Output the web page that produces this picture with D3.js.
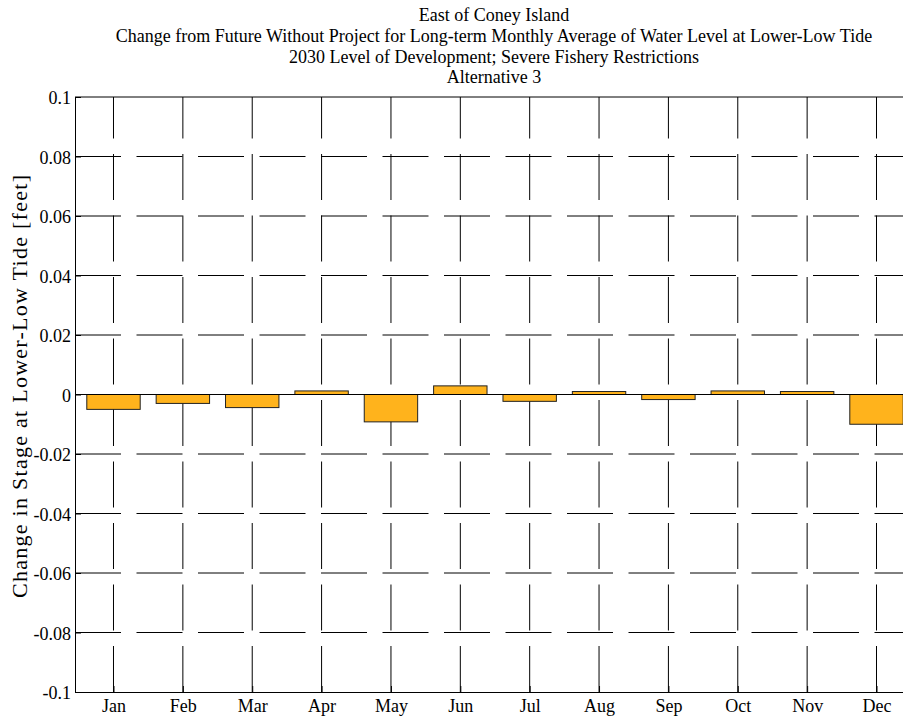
<!DOCTYPE html>
<html>
<head>
<meta charset="utf-8">
<script src="https://cdn.jsdelivr.net/npm/d3@7"></script>
<style>
  body { margin: 0; background: #fff; }
  svg { display: block; }
  text { font-family: "Liberation Serif", "Times New Roman", serif; fill: #000; }
</style>
</head>
<body>
<svg id="chart" width="903" height="719"></svg>
<script>
const months = ["Jan","Feb","Mar","Apr","May","Jun","Jul","Aug","Sep","Oct","Nov","Dec"];
const values = [-0.005, -0.003, -0.0044, 0.0012, -0.0092, 0.0029, -0.0023, 0.001, -0.0017, 0.0012, 0.001, -0.01];
const yTicks = [-0.1, -0.08, -0.06, -0.04, -0.02, 0, 0.02, 0.04, 0.06, 0.08, 0.1];
const titleLines = [
  "East of Coney Island",
  "Change from Future Without Project for Long-term Monthly Average of Water Level at Lower-Low Tide",
  "2030 Level of Development; Severe Fishery Restrictions",
  "Alternative 3"
];
const yLabel = "Change in Stage at Lower-Low Tide [feet]";

(function () {
const svg = d3.select("#chart");
const mLeft = 75, mTop = 97, mBottom = 692, mRight = 915;
const FONT = "'Liberation Serif', 'Times New Roman', serif";

const x = d3.scaleLinear().domain([0.445, 12.555]).range([mLeft, mRight]);
const y = d3.scaleLinear().domain([-0.1, 0.1]).range([mBottom, mTop]);
const barW = 0.77;

const fmt = d => d === 0 ? "0" : String(+d.toFixed(2));

// grid
const grid = svg.append("g");
yTicks.filter(d => d !== 0 && d !== 0.1 && d !== -0.1).forEach(d => {
  grid.append("line")
    .attr("x1", mLeft).attr("x2", mRight)
    .attr("y1", y(d)).attr("y2", y(d))
    .attr("stroke", "#000").attr("stroke-width", 1)
    .attr("stroke-dasharray", "46,15.5");
});
months.forEach((m, i) => {
  grid.append("line")
    .attr("x1", x(i + 1)).attr("x2", x(i + 1))
    .attr("y1", mBottom).attr("y2", mTop)
    .attr("stroke", "#000").attr("stroke-width", 1)
    .attr("stroke-dasharray", "46,15.5");
});

// bars
svg.append("g").selectAll("rect").data(values).join("rect")
  .attr("x", (d, i) => x(i + 1 - barW / 2))
  .attr("width", x(barW) - x(0))
  .attr("y", d => y(Math.max(0, d)))
  .attr("height", d => Math.abs(y(d) - y(0)))
  .attr("fill", "#FFB31C")
  .attr("stroke", "#222")
  .attr("stroke-width", 1);

// baseline
svg.append("line")
  .attr("x1", mLeft).attr("x2", mRight)
  .attr("y1", y(0)).attr("y2", y(0))
  .attr("stroke", "#000").attr("stroke-width", 1);

// axes (ticks inside)
const yAxis = d3.axisLeft(y).tickValues(yTicks).tickFormat(fmt).tickSizeInner(-6).tickSizeOuter(0).tickPadding(4);
const gy = svg.append("g").attr("transform", `translate(${mLeft},0)`).call(yAxis)
  .attr("font-family", FONT).attr("font-size", 18);
gy.select(".domain").attr("stroke", "#000");
gy.selectAll("text").style("font-size", "18px").attr("fill", "#000").attr("dy", "0.37em");

const xAxis = d3.axisBottom(x).tickValues(d3.range(1, 13)).tickFormat(d => months[d - 1]).tickSizeInner(-6).tickSizeOuter(0).tickPadding(7);
const gx = svg.append("g").attr("transform", `translate(0,${mBottom})`).call(xAxis)
  .attr("font-family", FONT).attr("font-size", 18);
gx.select(".domain").attr("stroke", "#000");
gx.selectAll("text").style("font-size", "18px").attr("fill", "#000");

// top border
svg.append("line").attr("x1", mLeft).attr("x2", mRight).attr("y1", mTop).attr("y2", mTop).attr("stroke", "#000");

// title
svg.append("g").selectAll("text").data(titleLines).join("text")
  .attr("x", 494)
  .attr("y", (d, i) => 21 + i * 20.8)
  .attr("text-anchor", "middle")
  .style("font-size", "18px")
  .text(d => d);

// y label
svg.append("text")
  .attr("transform", `translate(27,386.5) rotate(-90)`)
  .attr("text-anchor", "middle")
  .attr("textLength", 423)
  .attr("lengthAdjust", "spacing")
  .style("font-size", "22px")
  .text(yLabel);
})();
</script>
</body>
</html>
